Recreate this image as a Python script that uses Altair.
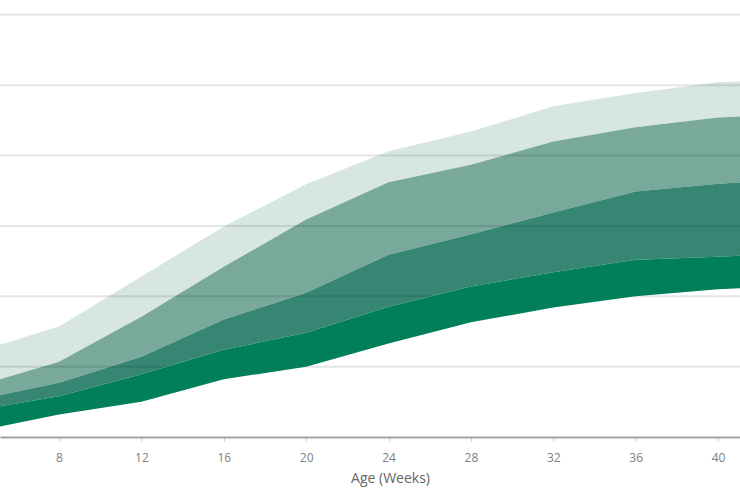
import altair as alt
import pandas as pd

# Age in weeks
weeks = [4, 8, 12, 16, 20, 24, 28, 32, 36, 40, 44]
# Band boundaries (bottom to top)
b0 = [0.8, 3.2, 5.0, 8.2, 10.0, 13.3, 16.3, 18.4, 20.0, 21.0, 21.5]
b1 = [3.8, 5.8, 8.9, 12.4, 14.8, 18.5, 21.4, 23.4, 25.2, 25.6, 26.2]
b2 = [5.3, 7.7, 11.4, 16.7, 20.5, 25.9, 28.8, 31.9, 34.9, 36.0, 36.6]
b3 = [7.2, 10.7, 17.1, 24.2, 30.9, 36.2, 38.7, 42.0, 44.0, 45.4, 46.0]
b4 = [12.1, 15.7, 22.8, 29.9, 35.9, 40.6, 43.4, 47.0, 48.9, 50.4, 50.9]

x_ticks = [8, 12, 16, 20, 24, 28, 32, 36, 40]
grid_values = [10, 20, 30, 40, 50, 60]

band_colors = ["#007f5a", "#378674", "#79a99b", "#d7e6e2"]

df = pd.DataFrame({"week": weeks, "b0": b0, "b1": b1, "b2": b2, "b3": b3, "b4": b4})
grid_df = pd.DataFrame({"v": grid_values})

x_scale = alt.Scale(domain=[5.135, 41.068], nice=False, zero=False)
y_scale = alt.Scale(domain=[0, 62.1], nice=False, zero=False)

x_enc = alt.X(
    "week:Q",
    scale=x_scale,
    title="Age (Weeks)",
    axis=alt.Axis(
        values=x_ticks,
        grid=False,
        domainColor="#a3a3a3",
        domainWidth=2,
        tickColor="#cccccc",
        tickSize=4,
        tickWidth=1,
        labelColor="#808080",
        labelFont="Open Sans",
        labelFontSize=12,
        labelBaseline="alphabetic",
        labelPadding=20,
        titleColor="#666666",
        titleFont="Open Sans",
        titleFontSize=14,
        titleFontWeight="normal",
        titleX=390,
        titleY=45.5,
        titleBaseline="alphabetic",
        titleAlign="center",
    ),
)


def band(lo, hi, color):
    return alt.Chart(df).mark_area(color=color, opacity=1, clip=True).encode(
        x=x_enc,
        y=alt.Y(f"{lo}:Q", scale=y_scale, axis=None),
        y2=f"{hi}:Q",
    )


light = band("b3", "b4", band_colors[3])
mid = band("b2", "b3", band_colors[2])
dark = band("b1", "b2", band_colors[1])
darkest = band("b0", "b1", band_colors[0])

grid = alt.Chart(grid_df).mark_rule(color="#000000", opacity=0.1, strokeWidth=2, clip=True).encode(
    y=alt.Y("v:Q", scale=y_scale, axis=None)
)

chart = (
    alt.layer(light, mid, dark, grid, darkest)
    .properties(
        width=740,
        height=437,
        autosize=alt.AutoSizeParams(type="none"),
        padding={"left": 0, "top": 0, "right": 0, "bottom": 63},
        background="white",
    )
    .configure_view(stroke=None, strokeWidth=0)
)

chart.save("out.html", embed_options={"renderer": "svg", "actions": False})
